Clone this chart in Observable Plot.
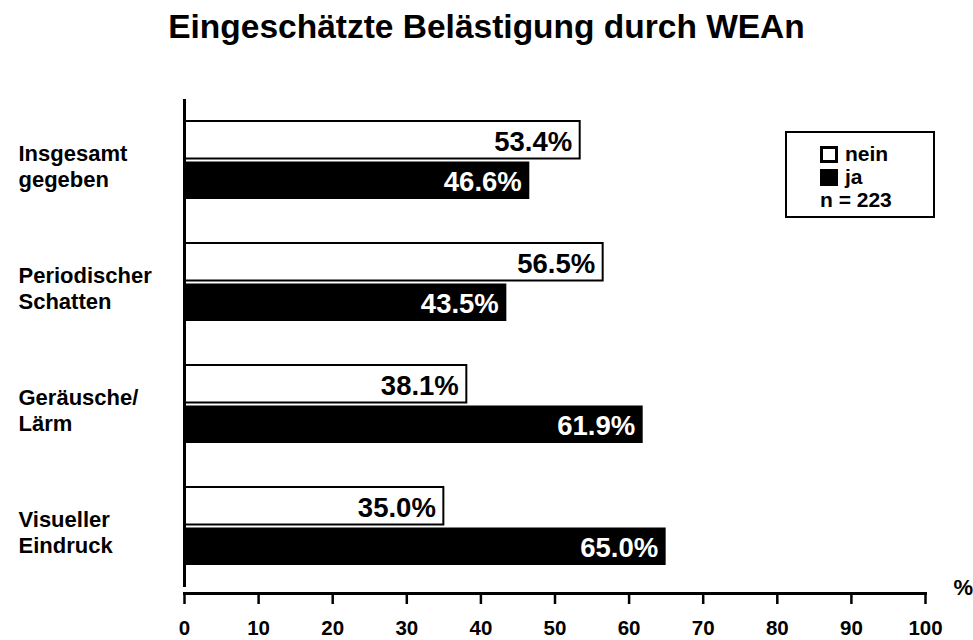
<!DOCTYPE html>
<html>
<head>
<meta charset="utf-8">
<script src="https://cdn.jsdelivr.net/npm/d3@7"></script>
<script src="https://cdn.jsdelivr.net/npm/@observablehq/plot@0.6"></script>
<style>
  body { margin: 0; background: #fff; font-family: "Liberation Sans", Arial, sans-serif; }
  #wrap { position: relative; width: 973px; height: 640px; overflow: hidden; }
  #title { height: 53px; line-height: 54px; text-align: center; font-size: 33.5px; font-weight: bold; color: #000; }
  #legend { position: absolute; left: 785px; top: 131px; width: 146px; height: 83px; border: 2px solid #000; background: #fff; font-size: 21px; font-weight: bold; }
  #legend .row { position: absolute; left: 33px; height: 23px; line-height: 23px; white-space: nowrap; }
  #legend .sw { display: inline-block; width: 18px; height: 17px; box-sizing: border-box; border: 3px solid #000; vertical-align: -2px; margin-right: 7px; }
</style>
</head>
<body>
<div id="wrap">
  <div id="title">Eingeschätzte Belästigung durch WEAn</div>
  <div id="chart"></div>
  <div id="legend"></div>
</div>
<script>
const categories = ["Insgesamt\ngegeben", "Periodischer\nSchatten", "Geräusche/\nLärm", "Visueller\nEindruck"];
const neinValues = [53.4, 56.5, 38.1, 35.0];
const jaValues = [46.6, 43.5, 61.9, 65.0];
const xTicks = [0, 10, 20, 30, 40, 50, 60, 70, 80, 90, 100];
const seriesNames = ["nein", "ja"];
const sampleNote = "n = 223";
const axisUnit = "%";

const nein = categories.map((c, i) => ({cat: c, value: neinValues[i]}));
const ja = categories.map((c, i) => ({cat: c, value: jaValues[i]}));
const fmt = d => d.value.toFixed(1) + "%";

const chart = Plot.plot({
  width: 973,
  height: 587,
  marginLeft: 184,
  marginRight: 48,
  marginTop: 46,
  marginBottom: 47,
  style: {fontFamily: "Liberation Sans, Arial, sans-serif", fontWeight: "bold", color: "#000", background: "#fff"},
  x: {domain: [0, 100]},
  y: {domain: categories, range: [46, 534], paddingInner: 0.363, paddingOuter: 0.1735},
  marks: [
    Plot.barX(nein, {x: "value", y: "cat", fill: "white", stroke: "black", strokeWidth: 2, insetBottom: 40.5}),
    Plot.barX(ja, {x: "value", y: "cat", fill: "black", insetTop: 40.5}),
    Plot.text(nein, {x: "value", y: "cat", text: fmt, textAnchor: "end", dx: -8, dy: -18, fontSize: 27.5, fontWeight: "bold", fill: "black"}),
    Plot.text(ja, {x: "value", y: "cat", text: fmt, textAnchor: "end", dx: -8, dy: 22, fontSize: 27.5, fontWeight: "bold", fill: "white"}),
    Plot.ruleX([0], {stroke: "black", strokeWidth: 3, insetBottom: 6}),
    Plot.frame({anchor: "bottom", stroke: "black", strokeWidth: 3}),
    Plot.axisX(xTicks, {anchor: "bottom", tickSize: 11, tickPadding: 16, strokeWidth: 2.5, fontSize: 20.5, fontWeight: "bold", label: null}),
    Plot.axisY({anchor: "left", tickSize: 0, tickPadding: 0, textAnchor: "start", dx: -166, dy: 5, fontSize: 22, fontWeight: "bold", lineHeight: 1.2, label: null}),
    Plot.text([axisUnit], {frameAnchor: "bottom-right", textAnchor: "start", dx: 28, dy: 1, fontSize: 22, fontWeight: "bold", fill: "black"})
  ]
});
document.getElementById("chart").appendChild(chart);

const legend = document.getElementById("legend");
legend.innerHTML =
  `<div class="row" style="top:9px"><span class="sw" style="background:#fff"></span>${seriesNames[0]}</div>` +
  `<div class="row" style="top:32px"><span class="sw" style="background:#000"></span>${seriesNames[1]}</div>` +
  `<div class="row" style="top:55px">${sampleNote}</div>`;
</script>
</body>
</html>
